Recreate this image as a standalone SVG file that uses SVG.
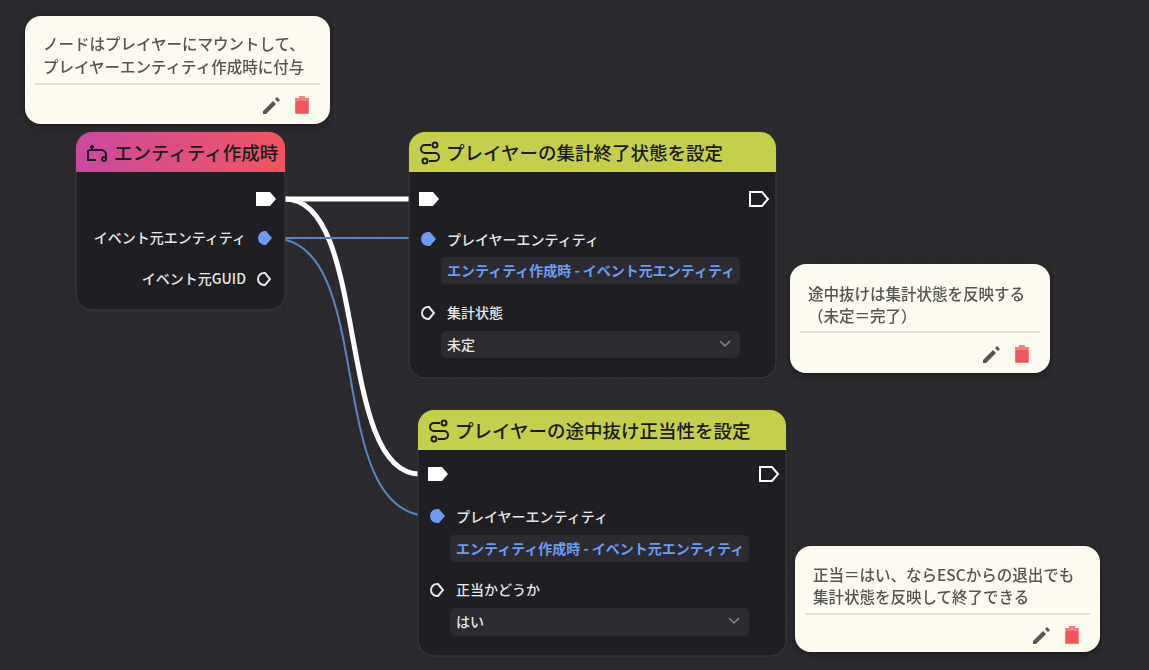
<svg xmlns="http://www.w3.org/2000/svg" width="1149" height="670" viewBox="0 0 1149 670">
<defs>
<pattern id="grid" width="24" height="24" patternUnits="userSpaceOnUse"><path d="M24 0V24H0" fill="none" stroke="#303035" stroke-width="1"/></pattern>
<linearGradient id="hg" x1="0" x2="1"><stop offset="0" stop-color="#c94aa0"/><stop offset="1" stop-color="#f2555f"/></linearGradient>
<filter id="sh" x="-10%" y="-10%" width="120%" height="130%"><feDropShadow dx="0" dy="2" stdDeviation="3" flood-color="#000" flood-opacity="0.4"/></filter>
</defs>
<style>
text{font-family:"Noto Sans CJK JP","Noto Sans",sans-serif}
.body{fill:#1f1f23;stroke:#3a3a40;stroke-width:1}
.hd{font-size:18.5px;fill:#1c1c1c;font-weight:500}
.lbl{font-size:14px;fill:#e6e6e6;font-weight:500}
.fld{fill:#2b2b31}
.link{font-size:14px;fill:#6c9cf0;font-weight:600}
.note{fill:#fdfbf0}
.nt{font-size:15.5px;fill:#555;font-weight:500}
.ex{fill:#fff}
.exo{fill:none;stroke:#fff;stroke-width:2}
</style>
<rect width="1149" height="670" fill="#2a2a2e"/>
<rect width="1149" height="670" fill="url(#grid)"/>
<g id="connectors" fill="none" stroke-linecap="round">
<path d="M285 199 L409 199" stroke="#fff" stroke-width="5"/>
<path d="M285 199 C370 199 335 474 420 474" stroke="#fff" stroke-width="5"/>
<path d="M272 238 L422 238" stroke="#5b84c4" stroke-width="2"/>
<path d="M272 238 C380 238 320 516 430 516" stroke="#5b84c4" stroke-width="2"/>
</g>
<g id="note1" filter="url(#sh)">
<rect x="25" y="16" width="305" height="108" rx="16" class="note"/>
<text x="43" y="50" class="nt">ノードはプレイヤーにマウントして、</text>
<text x="43" y="73" class="nt">プレイヤーエンティティ作成時に付与</text>
<line x1="35" y1="84" x2="320" y2="84" stroke="#e4e2d6" stroke-width="2"/>
<path d="M263 111 l10 -10 l3 3 l-10 10 h-3z M275 99 l2 -2 l3 3 l-2 2z" fill="#555"/>
<path d="M295 99 h14 M299 97 h6 M296 101 h12 v12 h-12z" fill="#f0565a" stroke="#f0565a" stroke-width="1.5"/>
</g>
<g id="n1">
<rect x="76" y="132" width="209" height="178" rx="16" class="body"/>
<path d="M76 172 V148 a16 16 0 0 1 16 -16 H269 a16 16 0 0 1 16 16 V172z" fill="url(#hg)"/>
<path d="M89 150 h12 a5 5 0 0 1 5 5 v4 M104 161 a2 2 0 1 1 0.1 0 M92 145 v4 M90 147 h4 M88 150 v10 h8" fill="none" stroke="#1c1c1c" stroke-width="2"/>
<text x="114" y="160" class="hd">エンティティ作成時</text>
<path d="M256 192 h14 l6 7 l-6 7 h-14z" class="ex"/>
<text x="246" y="243" class="lbl" text-anchor="end">イベント元エンティティ</text>
<path d="M258 238 a7 7 0 0 1 7 -7 h1 l6 7 l-6 7 h-1 a7 7 0 0 1 -7 -7z" fill="#6c9cf0"/>
<text x="246" y="284" class="lbl" text-anchor="end">イベント元GUID</text>
<path d="M258 279 a6 6 0 0 1 6 -6 h1 l5 6 l-5 6 h-1 a6 6 0 0 1 -6 -6z" fill="none" stroke="#e6e6e6" stroke-width="2"/>
</g>
<g id="n2">
<rect x="409" y="132" width="367" height="246" rx="16" class="body"/>
<path d="M409 172 V148 a16 16 0 0 1 16 -16 H760 a16 16 0 0 1 16 16 V172z" fill="#c5cf4b"/>
<path d="M431 145 h-6 a4 4 0 0 0 0 8 h10 a4 4 0 0 1 0 8 h-6" fill="none" stroke="#1c1c1c" stroke-width="2"/><circle cx="435" cy="145" r="2.5" fill="none" stroke="#1c1c1c" stroke-width="2"/><circle cx="425" cy="161" r="2.5" fill="none" stroke="#1c1c1c" stroke-width="2"/>
<text x="446" y="160" class="hd">プレイヤーの集計終了状態を設定</text>
<path d="M419 192 h14 l6 7 l-6 7 h-14z" class="ex"/>
<path d="M750 192 h12 l6 7 l-6 7 h-12z" class="exo"/>
<path d="M421 239 a7 7 0 0 1 7 -7 h2 l6 7 l-6 7 h-2 a7 7 0 0 1 -7 -7z" fill="#6c9cf0"/>
<text x="447" y="245" class="lbl">プレイヤーエンティティ</text>
<rect x="441" y="257" width="299" height="27" rx="5" class="fld"/>
<text x="447" y="276" class="link">エンティティ作成時 - イベント元エンティティ</text>
<path d="M422 313 a6 6 0 0 1 6 -6 h1 l5 6 l-5 6 h-1 a6 6 0 0 1 -6 -6z" fill="none" stroke="#e6e6e6" stroke-width="2"/>
<text x="447" y="318" class="lbl">集計状態</text>
<rect x="441" y="331" width="299" height="27" rx="5" class="fld"/>
<text x="447" y="350" class="lbl" font-weight="600">未定</text>
<path d="M720 341 l5 5 l5 -5" fill="none" stroke="#888" stroke-width="1.5"/>
</g>
<g id="n3">
<rect x="418" y="410" width="368" height="246" rx="16" class="body"/>
<path d="M418 450 V426 a16 16 0 0 1 16 -16 H770 a16 16 0 0 1 16 16 V450z" fill="#c5cf4b"/>
<path d="M440 423 h-6 a4 4 0 0 0 0 8 h10 a4 4 0 0 1 0 8 h-6" fill="none" stroke="#1c1c1c" stroke-width="2"/><circle cx="444" cy="423" r="2.5" fill="none" stroke="#1c1c1c" stroke-width="2"/><circle cx="434" cy="439" r="2.5" fill="none" stroke="#1c1c1c" stroke-width="2"/>
<text x="455" y="438" class="hd">プレイヤーの途中抜け正当性を設定</text>
<path d="M428 467 h14 l6 7 l-6 7 h-14z" class="ex"/>
<path d="M760 467 h12 l6 7 l-6 7 h-12z" class="exo"/>
<path d="M430 516 a7 7 0 0 1 7 -7 h2 l6 7 l-6 7 h-2 a7 7 0 0 1 -7 -7z" fill="#6c9cf0"/>
<text x="456" y="522" class="lbl">プレイヤーエンティティ</text>
<rect x="450" y="535" width="299" height="27" rx="5" class="fld"/>
<text x="456" y="554" class="link">エンティティ作成時 - イベント元エンティティ</text>
<path d="M431 590 a6 6 0 0 1 6 -6 h1 l5 6 l-5 6 h-1 a6 6 0 0 1 -6 -6z" fill="none" stroke="#e6e6e6" stroke-width="2"/>
<text x="456" y="595" class="lbl">正当かどうか</text>
<rect x="450" y="608" width="299" height="28" rx="5" class="fld"/>
<text x="456" y="627" class="lbl" font-weight="600">はい</text>
<path d="M729 618 l5 5 l5 -5" fill="none" stroke="#888" stroke-width="1.5"/>
</g>
<g id="note2" filter="url(#sh)">
<rect x="790" y="264" width="260" height="109" rx="16" class="note"/>
<text x="808" y="300" class="nt">途中抜けは集計状態を反映する</text>
<text x="808" y="322" class="nt">（未定＝完了）</text>
<line x1="800" y1="332" x2="1040" y2="332" stroke="#e4e2d6" stroke-width="2"/>
<path d="M983 360 l10 -10 l3 3 l-10 10 h-3z M995 348 l2 -2 l3 3 l-2 2z" fill="#555"/>
<path d="M1015 348 h14 M1019 346 h6 M1016 350 h12 v12 h-12z" fill="#f0565a" stroke="#f0565a" stroke-width="1.5"/>
</g>
<g id="note3" filter="url(#sh)">
<rect x="795" y="546" width="305" height="106" rx="16" class="note"/>
<text x="813" y="581" class="nt">正当＝はい、ならESCからの退出でも</text>
<text x="813" y="603" class="nt">集計状態を反映して終了できる</text>
<line x1="805" y1="614" x2="1090" y2="614" stroke="#e4e2d6" stroke-width="2"/>
<path d="M1033 641 l10 -10 l3 3 l-10 10 h-3z M1045 629 l2 -2 l3 3 l-2 2z" fill="#555"/>
<path d="M1065 629 h14 M1069 627 h6 M1066 631 h12 v12 h-12z" fill="#f0565a" stroke="#f0565a" stroke-width="1.5"/>
</g>
</svg>
